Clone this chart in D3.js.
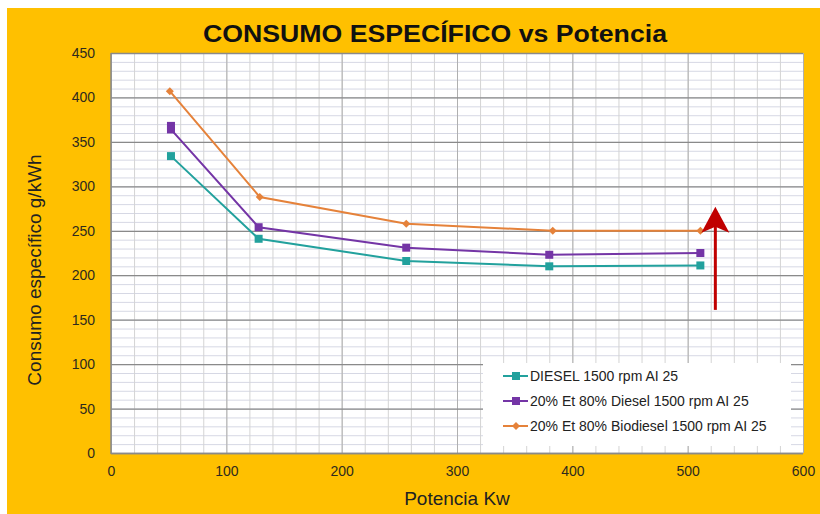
<!DOCTYPE html>
<html><head><meta charset="utf-8">
<script src="https://cdn.jsdelivr.net/npm/d3@7"></script>
<style>
html,body{margin:0;padding:0;background:#fff;}
svg{display:block;font-family:Arial,"Liberation Sans",sans-serif;}
</style></head>
<body>
<svg id="chart" width="820" height="514"></svg>
<script>
// ---- data ----
const xTicks = [0, 100, 200, 300, 400, 500, 600];
const yTicks = [0, 50, 100, 150, 200, 250, 300, 350, 400, 450];
const seriesNames = ["DIESEL 1500 rpm AI 25", "20% Et 80% Diesel 1500 rpm AI 25", "20% Et 80% Biodiesel 1500 rpm AI 25"];
const powerDiesel = [52, 128, 256, 380, 511];
const consDiesel  = [334, 241, 216, 210, 211];
const powerEtDiesel = [52, 52, 128, 256, 380, 511];
const consEtDiesel  = [368, 364, 254, 231, 223, 225];
const powerEtBio = [51, 129, 256, 383, 511];
const consEtBio  = [407, 288, 258, 250, 250];
const arrowPower = 524;
const arrowCons = [161, 277];

const colors = ["#22a19d", "#7435a6", "#e5823a"];
const shapes = ["square", "square", "diamond"];

const svg = d3.select("#chart");
const W = 820, H = 514;
// background
svg.append("rect").attr("x", 7).attr("y", 8).attr("width", W - 7).attr("height", H - 8).attr("fill", "#ffc000");

const plot = {l: 111, r: 803, t: 53, b: 453};
const x = d3.scaleLinear().domain([0, 600]).range([plot.l, plot.r]);
const y = d3.scaleLinear().domain([0, 450]).range([plot.b, plot.t]);

svg.append("rect").attr("x", plot.l).attr("y", plot.t).attr("width", plot.r - plot.l).attr("height", plot.b - plot.t).attr("fill", "#fff");

const g = svg.append("g");
// minor horizontal
g.selectAll(".hmin").data(d3.range(0, 451, 10)).enter().append("line")
  .attr("x1", plot.l).attr("x2", plot.r).attr("y1", d => y(d) + 0.5).attr("y2", d => y(d) + 0.5)
  .attr("stroke", "#d6d8e4").attr("stroke-width", 1);
// minor vertical
g.selectAll(".vmin").data(d3.range(0, 601, 20)).enter().append("line")
  .attr("y1", plot.t).attr("y2", plot.b).attr("x1", d => x(d) + 0.5).attr("x2", d => x(d) + 0.5)
  .attr("stroke", "#d4d4d4").attr("stroke-width", 1);
// major vertical
g.selectAll(".vmaj").data(xTicks).enter().append("line")
  .attr("y1", plot.t).attr("y2", plot.b).attr("x1", d => x(d) + 0.5).attr("x2", d => x(d) + 0.5)
  .attr("stroke", "#b0b0b0").attr("stroke-width", 1);
// major horizontal
g.selectAll(".hmaj").data(yTicks).enter().append("line")
  .attr("x1", plot.l).attr("x2", plot.r).attr("y1", d => y(d) + 0.5).attr("y2", d => y(d) + 0.5)
  .attr("stroke", "#8a8a8a").attr("stroke-width", 1.3);

// axis frame
svg.append("line").attr("x1", plot.l).attr("x2", plot.l).attr("y1", plot.t).attr("y2", plot.b + 1).attr("stroke", "#8a8a8a").attr("stroke-width", 1.5);
svg.append("line").attr("x1", plot.l).attr("x2", plot.r).attr("y1", plot.b + 0.5).attr("y2", plot.b + 0.5).attr("stroke", "#8a8a8a").attr("stroke-width", 1.5);

// axes (labels only)
const yAxis = svg.append("g").attr("transform", `translate(${plot.l},0)`)
  .call(d3.axisLeft(y).tickValues(yTicks).tickSize(0).tickPadding(16));
const xAxis = svg.append("g").attr("transform", `translate(0,${plot.b})`)
  .call(d3.axisBottom(x).tickValues(xTicks).tickSize(0).tickPadding(13));
[yAxis, xAxis].forEach(a => {
  a.select(".domain").remove();
  a.selectAll("text").attr("fill", "#2e2a1e").attr("font-size", 14).attr("font-family", "Arial, 'Liberation Sans', sans-serif");
});

// legend box
const legend = svg.append("g");
legend.append("rect").attr("x", 483).attr("y", 363).attr("width", 308).attr("height", 83).attr("fill", "#fff");

// series
const series = [
  {px: powerDiesel, py: consDiesel},
  {px: powerEtDiesel, py: consEtDiesel},
  {px: powerEtBio, py: consEtBio}
];
const line = d3.line().x(d => x(d[0])).y(d => y(d[1]));
function marker(sel, shape, color) {
  if (shape === "square") {
    sel.append("rect").attr("x", -4).attr("y", -4).attr("width", 8).attr("height", 8).attr("fill", color);
  } else {
    sel.append("path").attr("d", "M0,-4L4,0L0,4L-4,0Z").attr("fill", color);
  }
}
series.forEach((s, i) => {
  const pts = s.px.map((v, k) => [v, s.py[k]]);
  svg.append("path").datum(pts).attr("d", line).attr("fill", "none")
    .attr("stroke", colors[i]).attr("stroke-width", 2);
  svg.append("g").selectAll("g").data(pts).enter().append("g")
    .attr("transform", d => `translate(${x(d[0])},${y(d[1])})`)
    .each(function () { marker(d3.select(this), shapes[i], colors[i]); });
});

// legend entries
seriesNames.forEach((name, i) => {
  const ly = 376 + i * 25;
  const e = legend.append("g").attr("transform", `translate(0,${ly})`);
  e.append("line").attr("x1", 503).attr("x2", 528).attr("y1", 0).attr("y2", 0).attr("stroke", colors[i]).attr("stroke-width", 2);
  const m = e.append("g").attr("transform", "translate(516,0)");
  marker(m, shapes[i], colors[i]);
  e.append("text").attr("x", 530).attr("y", 5).attr("font-size", 14).attr("fill", "#222").text(name);
});

// arrow annotation
const ax = x(arrowPower), ay0 = y(arrowCons[0]), ay1 = y(arrowCons[1]);
svg.append("line").attr("x1", ax).attr("x2", ax).attr("y1", ay0).attr("y2", ay1 + 18)
  .attr("stroke", "#c00000").attr("stroke-width", 3);
svg.append("path")
  .attr("d", `M${ax},${ay1}L${ax + 14},${ay1 + 26}L${ax},${ay1 + 20}L${ax - 14},${ay1 + 26}Z`)
  .attr("fill", "#c00000");

// title
svg.append("text").attr("x", 435).attr("y", 42).attr("text-anchor", "middle")
  .attr("font-size", 24).attr("font-weight", "bold").attr("fill", "#111")
  .attr("textLength", 464).attr("lengthAdjust", "spacingAndGlyphs")
  .text("CONSUMO ESPECÍFICO vs Potencia");
// axis titles
svg.append("text").attr("x", 457).attr("y", 505).attr("text-anchor", "middle")
  .attr("font-size", 19).attr("fill", "#222").text("Potencia Kw");
svg.append("text").attr("transform", "translate(41,270) rotate(-90)").attr("text-anchor", "middle")
  .attr("font-size", 19).attr("fill", "#222").text("Consumo específico g/kWh");
</script>
</body></html>
